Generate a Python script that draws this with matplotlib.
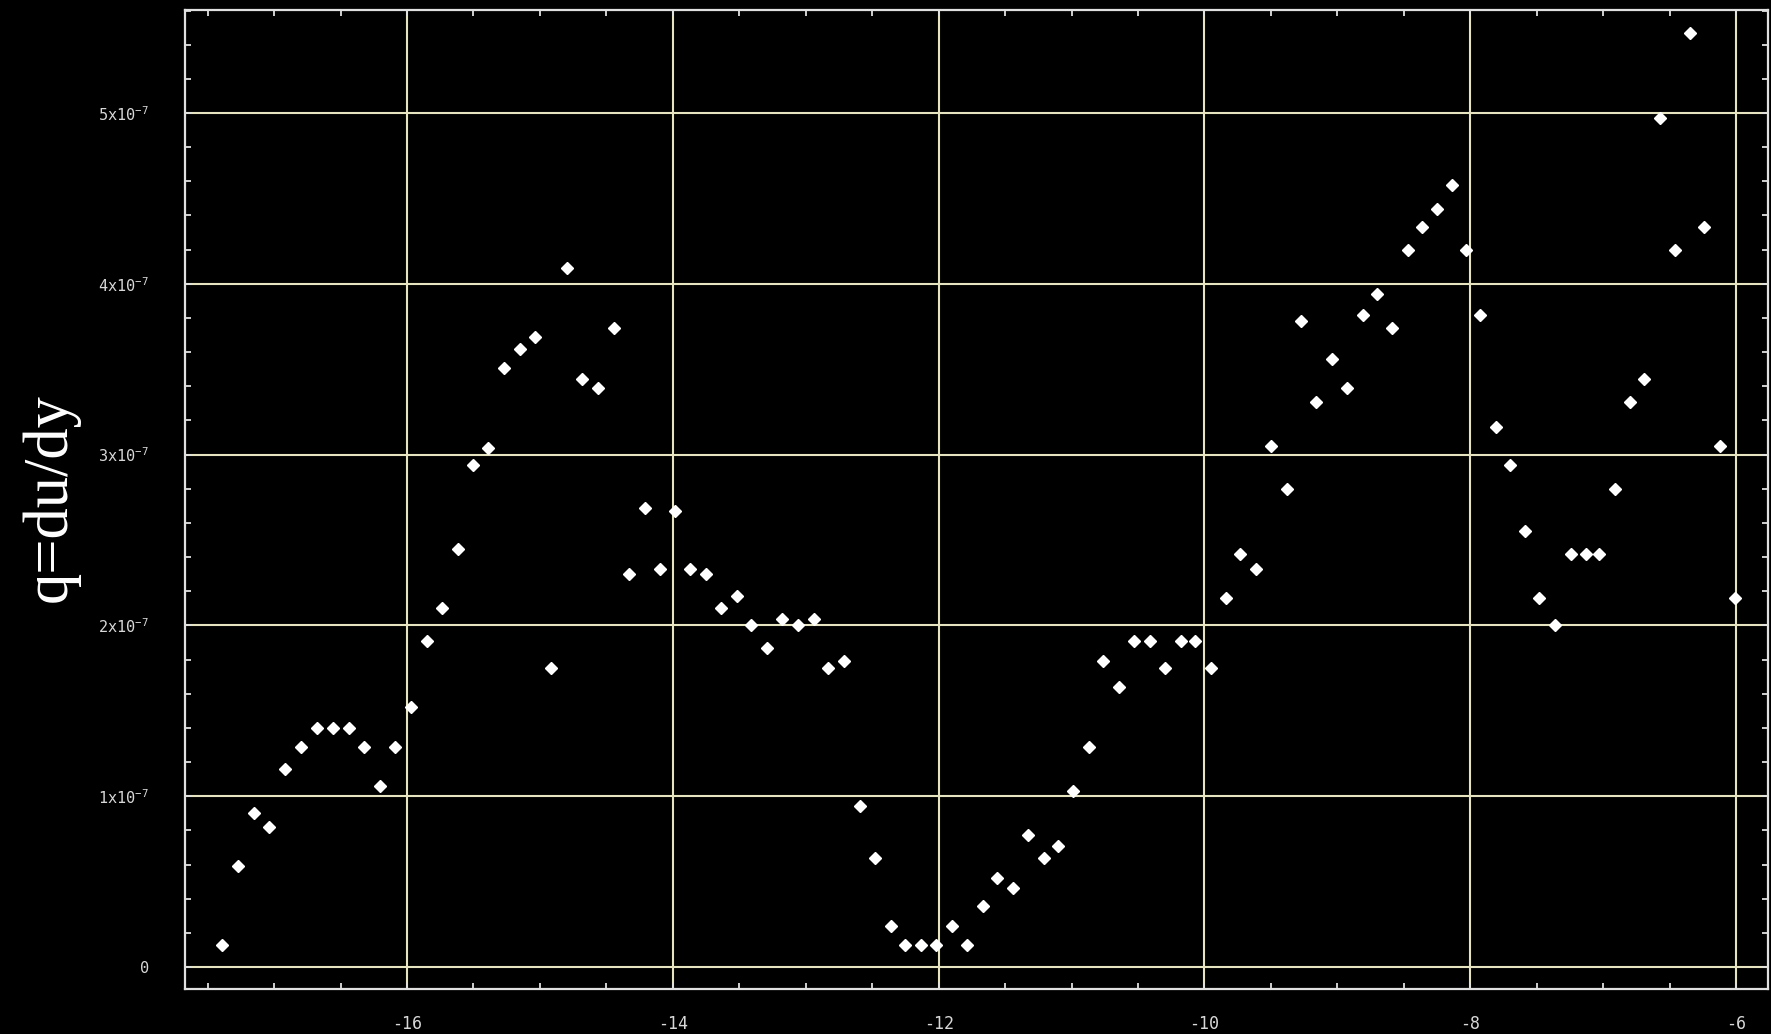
import numpy as np
import matplotlib.pyplot as plt
import matplotlib.ticker as ticker

plt.rcParams['font.family'] = ['DejaVu Sans Mono']
plt.rcParams['mathtext.default'] = 'regular'
plt.rcParams['axes.unicode_minus'] = False

# readings, y in units of 1e-7
xs = [-17.39, -17.27, -17.15, -17.04, -16.92, -16.80, -16.68, -16.56, -16.44, -16.32,
      -16.20, -16.09, -15.97, -15.85, -15.74, -15.62, -15.50, -15.39, -15.27, -15.15,
      -15.04, -14.92, -14.80, -14.68, -14.56, -14.44, -14.33, -14.21, -14.10, -13.98,
      -13.87, -13.75, -13.64, -13.52, -13.41, -13.29, -13.18, -13.06, -12.94, -12.83,
      -12.71, -12.59, -12.48, -12.36, -12.25, -12.13, -12.02, -11.90, -11.79, -11.67,
      -11.56, -11.44, -11.33, -11.21, -11.10, -10.99, -10.87, -10.76, -10.64, -10.53,
      -10.41, -10.30, -10.18, -10.07, -9.95, -9.84, -9.73, -9.61, -9.50, -9.38,
      -9.27, -9.16, -9.04, -8.93, -8.81, -8.70, -8.59, -8.47, -8.36, -8.25,
      -8.14, -8.03, -7.93, -7.81, -7.70, -7.59, -7.48, -7.36, -7.24, -7.13,
      -7.03, -6.91, -6.80, -6.69, -6.57, -6.46, -6.35, -6.24, -6.12, -6.01]
qs = [0.13, 0.59, 0.90, 0.82, 1.16, 1.29, 1.40, 1.40, 1.40, 1.29,
      1.06, 1.29, 1.52, 1.91, 2.10, 2.45, 2.94, 3.04, 3.51, 3.62,
      3.69, 1.75, 4.09, 3.44, 3.39, 3.74, 2.30, 2.69, 2.33, 2.67,
      2.33, 2.30, 2.10, 2.17, 2.00, 1.87, 2.04, 2.00, 2.04, 1.75,
      1.79, 0.94, 0.64, 0.24, 0.13, 0.13, 0.13, 0.24, 0.13, 0.36,
      0.52, 0.46, 0.77, 0.64, 0.71, 1.03, 1.29, 1.79, 1.64, 1.91,
      1.91, 1.75, 1.91, 1.91, 1.75, 2.16, 2.42, 2.33, 3.05, 2.80,
      3.78, 3.31, 3.56, 3.39, 3.82, 3.94, 3.74, 4.20, 4.33, 4.44,
      4.58, 4.20, 3.82, 3.16, 2.94, 2.55, 2.16, 2.00, 2.42, 2.42,
      2.42, 2.80, 3.31, 3.44, 4.97, 4.20, 5.47, 4.33, 3.05, 2.16]

xticks = [-16, -14, -12, -10, -8, -6]
yticks = [0, 1, 2, 3, 4, 5]
ylabels = ['0'] + ['%dx10$^{-7}$' % k for k in yticks[1:]]

fg = '#d8d8d8'
gridcol = '#e6e4c0'

fig = plt.figure(figsize=(17.71, 10.34), dpi=100, facecolor='black')
ax = fig.add_axes([0.1045, 0.0435, 0.8938, 0.9468], facecolor='black')

y = np.array(qs) * 1e-7
ax.plot(xs, y, linestyle='none', marker='D', markersize=6.2,
        markerfacecolor='white', markeredgecolor='white', zorder=3)

ax.set_xlim(-17.67, -5.76)
ax.set_ylim(-0.129e-7, 5.603e-7)

ax.xaxis.set_major_locator(ticker.FixedLocator(xticks))
ax.xaxis.set_minor_locator(ticker.MultipleLocator(0.5))
ax.yaxis.set_major_locator(ticker.FixedLocator([k * 1e-7 for k in yticks]))
ax.yaxis.set_major_formatter(ticker.FixedFormatter(ylabels))
ax.yaxis.set_minor_locator(ticker.MultipleLocator(0.2e-7))

ax.grid(True, which='major', color=gridcol, linewidth=1.5)
for s in ax.spines.values():
    s.set_color('#e0e0e0')
    s.set_linewidth(1.6)

ax.tick_params(which='both', direction='in', top=True, right=True,
               color='#e0e0e0', width=1.3, labelcolor=fg)
ax.tick_params(which='major', length=4.5)
ax.tick_params(which='minor', length=4.5)
ax.tick_params(axis='x', pad=19, labelsize=12)
ax.tick_params(axis='y', pad=26, labelsize=11)

fig.text(51 / 1771, 1 - 498 / 1034, 'q=du/dy', rotation=90, color='white',
         family='Liberation Serif', fontsize=45, ha='center', va='center')

plt.savefig('out.png', dpi=100, facecolor='black')
